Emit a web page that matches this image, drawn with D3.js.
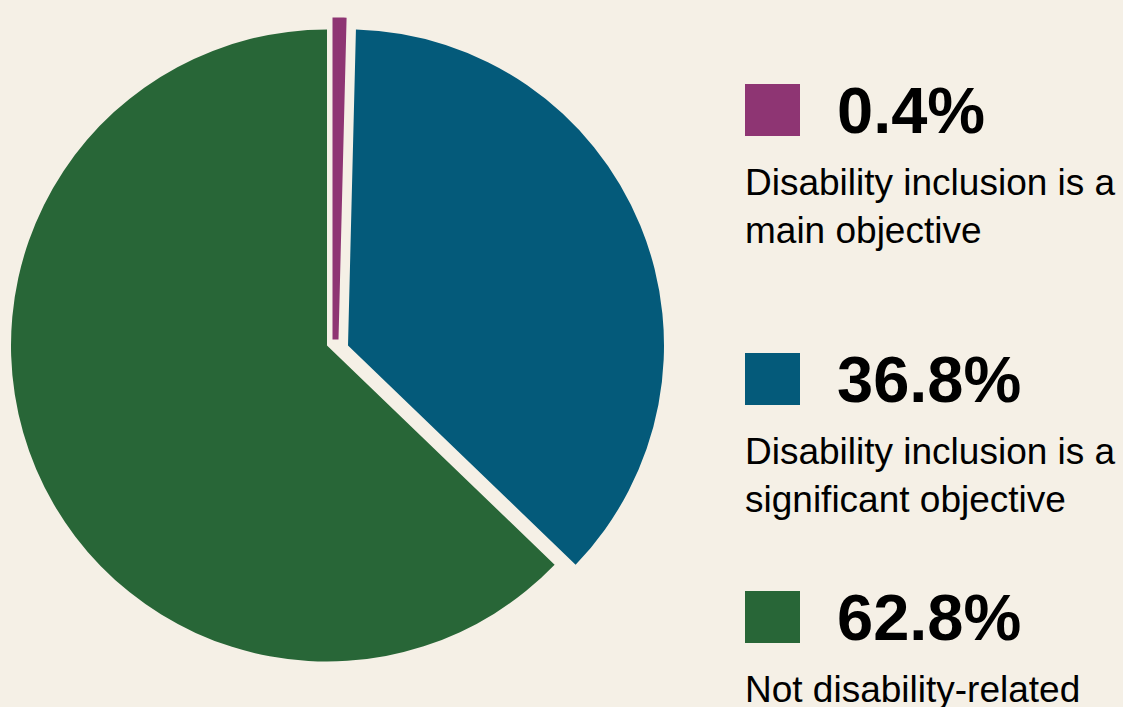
<!DOCTYPE html>
<html>
<head>
<meta charset="utf-8">
<script src="https://cdn.jsdelivr.net/npm/d3@7"></script>
<style>
  html, body { margin: 0; padding: 0; background: #f5f0e6; }
  svg { display: block; font-family: "Liberation Sans", Arial, sans-serif; }
</style>
</head>
<body>
<div id="chart"></div>
<script>
// datos del gráfico
const categories = ["main", "significant", "not"];
const shares = [0.4, 36.8, 62.8];
const pctLabels = ["0.4%", "36.8%", "62.8%"];
const descLines = [
    ["Disability inclusion is a", "main objective"],
    ["Disability inclusion is a", "significant objective"],
    ["Not disability-related"]
];
const colors = ["#8e3573", "#045a7a", "#286637"];

const width = 1123, height = 707;
const cx = 327, cy = 345.5, R = 316;

// desplazamiento de las porciones (explode)
const explode = { main: [8.5, -6], significant: [21, 0], not: [0, 0] };
const legendTop = [84, 353, 591];

const svg = d3.select("#chart").append("svg")
    .attr("width", width)
    .attr("height", height);

svg.append("rect").attr("width", width).attr("height", height).attr("fill", "#f5f0e6");

const data = categories.map((c, i) => ({ key: c, value: shares[i], color: colors[i], pct: pctLabels[i], lines: descLines[i] }));

const pie = d3.pie().sort(null).value(d => d.value);
const arc = d3.arc().innerRadius(0).outerRadius(R);

const g = svg.append("g").attr("transform", `translate(${cx},${cy})`);

g.selectAll("path.slice")
    .data(pie(data))
    .enter()
    .append("path")
    .attr("class", "slice")
    .attr("d", d => d.data.key === "main" ? d3.arc().innerRadius(0).outerRadius(R + 3)(d) : arc(d))
    .attr("transform", d => `translate(${explode[d.data.key][0]},${explode[d.data.key][1]})`)
    .attr("fill", d => d.data.color)
    // la porción pequeña lleva borde de su mismo color para que se vea
    .attr("stroke", d => d.data.key === "main" ? d.data.color : "none")
    .attr("stroke-width", 6)
    .attr("stroke-linejoin", "miter");

// Leyenda
const legend = svg.selectAll("g.legend")
    .data(data)
    .enter()
    .append("g")
    .attr("class", "legend")
    .attr("transform", (d, i) => `translate(745,${legendTop[i]})`);

legend.append("rect")
    .attr("width", 55)
    .attr("height", 52)
    .attr("fill", d => d.color);

legend.append("text")
    .attr("x", 92)
    .attr("y", 49)
    .attr("font-size", 65)
    .attr("font-weight", "bold")
    .attr("fill", "#000")
    .text(d => d.pct);

legend.each(function(d) {
    const t = d3.select(this);
    d.lines.forEach((line, j) => {
        t.append("text")
            .attr("x", 0)
            .attr("y", 111 + j * 48)
            .attr("font-size", 37)
            .attr("fill", "#000")
            .text(line);
    });
});
</script>
</body>
</html>
